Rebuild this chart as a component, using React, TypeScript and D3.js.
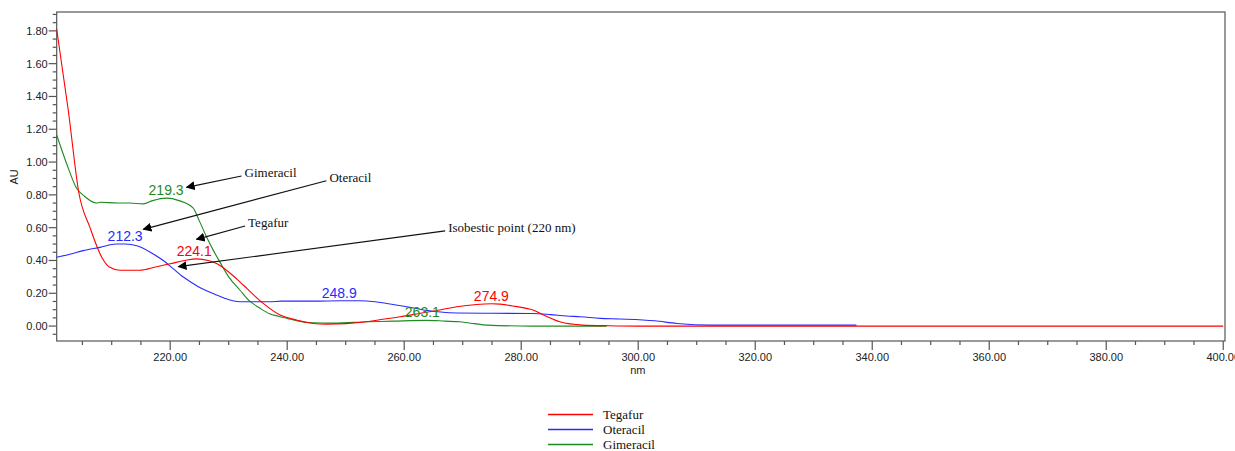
import React, { useEffect, useRef } from 'react';
import * as d3 from 'd3';

// spectra (wavelength nm, absorbance AU)
const tegafurNm = [200.6, 202.6, 204.4, 206.3, 208.3, 209.6, 211.4, 214.8, 217.5, 220, 222.5, 224.5, 226.5, 228, 230, 231.9, 233.1, 235.9, 238.8, 241.6, 244.4, 246.7, 250, 253.6, 256, 259.3, 263, 266.1, 269, 272.4, 274.9, 276.4, 279, 282, 284, 286.6, 290.5, 295, 300, 400];
const tegafurAu = [1.81, 1.31, 0.81, 0.6, 0.42, 0.36, 0.34, 0.34, 0.36, 0.38, 0.4, 0.41, 0.4, 0.38, 0.33, 0.27, 0.23, 0.138, 0.067, 0.037, 0.016, 0.012, 0.015, 0.026, 0.04, 0.057, 0.08, 0.098, 0.118, 0.132, 0.136, 0.134, 0.12, 0.098, 0.065, 0.026, 0.006, 0.002, 0, 0];

const oteracilNm = [200.6, 203, 205.1, 208, 210.8, 212.3, 214.3, 217.1, 219, 220.5, 222, 223.9, 225.3, 227.9, 229.3, 231.9, 237, 239, 245, 249, 252.4, 255, 257, 260.4, 264, 267.8, 275, 282, 285, 287.8, 290.1, 293.5, 296.9, 302.8, 306.6, 312.3, 337.3];
const oteracilAu = [0.42, 0.44, 0.46, 0.48, 0.5, 0.5, 0.49, 0.44, 0.395, 0.35, 0.305, 0.26, 0.23, 0.19, 0.17, 0.148, 0.148, 0.152, 0.152, 0.154, 0.154, 0.148, 0.138, 0.118, 0.095, 0.081, 0.078, 0.077, 0.07, 0.061, 0.057, 0.047, 0.043, 0.032, 0.016, 0.006, 0.006];

const gimeracilNm = [200.6, 202.3, 204, 205.4, 207.4, 208, 211, 213, 215.4, 217, 219.4, 221.5, 223.9, 225, 226.2, 227.4, 228.5, 230, 231.9, 233.5, 235.3, 237, 238.5, 240, 242, 244.4, 248, 253.6, 258, 263.8, 267, 269.5, 272, 274.1, 282, 294.6];
const gimeracilAu = [1.165, 0.99, 0.84, 0.79, 0.75, 0.755, 0.75, 0.75, 0.745, 0.765, 0.78, 0.765, 0.72, 0.64, 0.545, 0.46, 0.39, 0.3, 0.22, 0.155, 0.11, 0.075, 0.06, 0.047, 0.03, 0.02, 0.018, 0.026, 0.03, 0.035, 0.03, 0.026, 0.015, 0.006, 0.0, 0.0];

const seriesNames = ['Tegafur', 'Oteracil', 'Gimeracil'];
const seriesColors = ['#ff0000', '#2a2aff', '#1f8a1f'];

// peak labels: series index, wavelength, absorbance
const peakSeries = [1, 2, 0, 1, 2, 0];
const peakNm = [212.3, 219.3, 224.1, 248.9, 263.1, 274.9];
const peakAu = [0.5, 0.78, 0.41, 0.154, 0.035, 0.136];

// annotations: text, tail (nm, AU), arrow tip (nm, AU)
const noteText = ['Gimeracil', 'Oteracil', 'Tegafur', 'Isobestic point (220 nm)'];
const noteTailNm = [232.2, 246.7, 232.8, 267];
const noteTailAu = [0.915, 0.886, 0.61, 0.581];
const noteTipNm = [222.8, 215.4, 224.5, 221.4];
const noteTipAu = [0.846, 0.59, 0.529, 0.362];

const xMajor = d3.range(220, 401, 20);
const xMinor = d3.range(205, 401, 5);
const yMajor = d3.range(0, 1.81, 0.2);
const yMinor = d3.range(-0.05, 1.91, 0.05);

const W = 1235;
const H = 451;

const App: React.FC = () => {
  const svgRef = useRef<SVGSVGElement>(null);

  useEffect(() => {
    if (!svgRef.current) return;
    const svg = d3.select(svgRef.current);
    svg.selectAll('*').remove();

    const left = 56.7, right = 1225, top = 12, bottom = 341;
    const x = d3.scaleLinear().domain([200.6, 400.3]).range([left, right]);
    const y = d3.scaleLinear().domain([-0.091, 1.915]).range([bottom, top]);
    const axisColor = '#555';
    const sans = 'Arial, "Liberation Sans", sans-serif';
    const serif = '"Times New Roman", "Liberation Serif", serif';

    const defs = svg.append('defs');
    defs
      .append('marker')
      .attr('id', 'arrowhead')
      .attr('viewBox', '0 0 10 10')
      .attr('refX', 9)
      .attr('refY', 5)
      .attr('markerWidth', 9)
      .attr('markerHeight', 9)
      .attr('markerUnits', 'userSpaceOnUse')
      .attr('orient', 'auto')
      .append('path')
      .attr('d', 'M 0 0 L 10 5 L 0 10 Z')
      .attr('fill', '#000');

    // frame
    svg
      .append('rect')
      .attr('x', left)
      .attr('y', top)
      .attr('width', right - left)
      .attr('height', bottom - top)
      .attr('fill', 'none')
      .attr('stroke', axisColor)
      .attr('stroke-width', 1.2);

    // x ticks
    xMinor.forEach((v) => {
      const major = xMajor.some((m) => Math.abs(m - v) < 1e-6);
      svg
        .append('line')
        .attr('x1', x(v))
        .attr('x2', x(v))
        .attr('y1', bottom)
        .attr('y2', bottom + (major ? 9 : 4))
        .attr('stroke', axisColor)
        .attr('stroke-width', 1.2);
    });
    xMajor.forEach((v) => {
      svg
        .append('text')
        .attr('x', x(v))
        .attr('y', bottom + 20)
        .attr('text-anchor', 'middle')
        .attr('font-family', sans)
        .attr('font-size', '11px')
        .attr('fill', '#222')
        .text(v.toFixed(2));
    });

    // y ticks
    yMinor.forEach((v) => {
      const major = yMajor.some((m) => Math.abs(m - v) < 1e-6);
      svg
        .append('line')
        .attr('x1', left - (major ? 8 : 4))
        .attr('x2', left)
        .attr('y1', y(v))
        .attr('y2', y(v))
        .attr('stroke', axisColor)
        .attr('stroke-width', 1.2);
    });
    yMajor.forEach((v) => {
      svg
        .append('text')
        .attr('x', left - 9)
        .attr('y', y(v))
        .attr('dy', '0.35em')
        .attr('text-anchor', 'end')
        .attr('font-family', sans)
        .attr('font-size', '11px')
        .attr('fill', '#222')
        .text(v.toFixed(2));
    });

    svg
      .append('text')
      .attr('transform', `translate(18, ${y(0.91)}) rotate(-90)`)
      .attr('text-anchor', 'middle')
      .attr('font-family', sans)
      .attr('font-size', '11px')
      .attr('fill', '#222')
      .text('AU');

    svg
      .append('text')
      .attr('x', (left + right) / 2 - 3)
      .attr('y', bottom + 33)
      .attr('text-anchor', 'middle')
      .attr('font-family', sans)
      .attr('font-size', '11px')
      .attr('fill', '#222')
      .text('nm');

    // spectra
    const line = d3
      .line<[number, number]>()
      .x((d) => x(d[0]))
      .y((d) => y(d[1]))
      .curve(d3.curveMonotoneX);

    const spectra: [number[], number[]][] = [
      [tegafurNm, tegafurAu],
      [oteracilNm, oteracilAu],
      [gimeracilNm, gimeracilAu],
    ];
    // draw order: green, blue, red on top
    [2, 1, 0].forEach((i) => {
      const [nm, au] = spectra[i];
      const pts = nm.map((v, k) => [v, au[k]] as [number, number]);
      svg
        .append('path')
        .attr('d', line(pts)!)
        .attr('fill', 'none')
        .attr('stroke', seriesColors[i])
        .attr('stroke-width', 1.1);
    });

    // peak labels
    peakNm.forEach((v, k) => {
      svg
        .append('text')
        .attr('x', x(v))
        .attr('y', y(peakAu[k]) - 3)
        .attr('text-anchor', 'middle')
        .attr('font-family', sans)
        .attr('font-size', '14px')
        .attr('fill', seriesColors[peakSeries[k]])
        .text(v.toFixed(1));
    });

    // annotations
    noteText.forEach((t, k) => {
      svg
        .append('line')
        .attr('x1', x(noteTailNm[k]))
        .attr('y1', y(noteTailAu[k]))
        .attr('x2', x(noteTipNm[k]))
        .attr('y2', y(noteTipAu[k]))
        .attr('stroke', '#111')
        .attr('stroke-width', 1.2)
        .attr('marker-end', 'url(#arrowhead)');
      svg
        .append('text')
        .attr('x', x(noteTailNm[k]) + 3)
        .attr('y', y(noteTailAu[k]) + 1)
        .attr('font-family', serif)
        .attr('font-size', '13px')
        .attr('fill', '#111')
        .text(t);
    });

    // legend
    const legend = svg.append('g').attr('transform', 'translate(548, 414.5)');
    seriesNames.forEach((name, i) => {
      const row = legend.append('g').attr('transform', `translate(0, ${i * 15})`);
      row
        .append('rect')
        .attr('x', 0)
        .attr('y', -0.75)
        .attr('width', 45)
        .attr('height', 1.5)
        .attr('fill', seriesColors[i]);
      row
        .append('text')
        .attr('x', 55)
        .attr('y', 0)
        .attr('dy', '0.35em')
        .attr('font-family', serif)
        .attr('font-size', '13px')
        .attr('fill', '#111')
        .text(name);
    });
  }, []);

  return (
    <svg
      ref={svgRef}
      width={W}
      height={H}
      style={{ position: 'absolute', left: 0, top: 0, background: '#fff' }}
    />
  );
};

export default App;
